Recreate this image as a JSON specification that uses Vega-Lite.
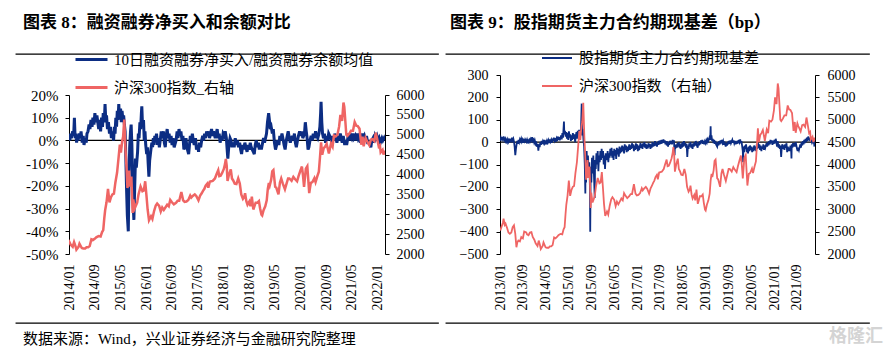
{
"$schema": "https://vega.github.io/schema/vega-lite/v6.json",
"padding": {"left": 15, "top": 13, "right": 5, "bottom": 5},
"background": "white",
"spacing": 6,
"resolve": {"scale": {"color": "independent"}, "legend": {"color": "independent"}},
"datasets": {
"hs300": [
{"d":"2013-01-04","v":2525},{"d":"2013-01-16","v":2600},{"d":"2013-02-01","v":2700},{"d":"2013-02-08","v":2790},{"d":"2013-02-20","v":2650},{"d":"2013-03-01","v":2680},{"d":"2013-03-16","v":2590},{"d":"2013-04-01","v":2480},{"d":"2013-04-16","v":2450},{"d":"2013-05-02","v":2480},{"d":"2013-05-16","v":2600},{"d":"2013-05-30","v":2640},{"d":"2013-06-13","v":2450},{"d":"2013-06-25","v":2150},{"d":"2013-07-05","v":2260},{"d":"2013-07-16","v":2300},{"d":"2013-08-01","v":2280},{"d":"2013-08-16","v":2380},{"d":"2013-09-02","v":2350},{"d":"2013-09-16","v":2500},{"d":"2013-10-08","v":2480},{"d":"2013-10-16","v":2440},{"d":"2013-11-01","v":2420},{"d":"2013-11-16","v":2480},{"d":"2013-12-02","v":2490},{"d":"2013-12-16","v":2380},
{"d":"2014-01-02","v":2320},{"d":"2014-01-16","v":2240},{"d":"2014-02-05","v":2180},{"d":"2014-02-18","v":2300},{"d":"2014-03-03","v":2200},{"d":"2014-03-12","v":2110},{"d":"2014-04-01","v":2180},{"d":"2014-04-10","v":2260},{"d":"2014-05-02","v":2150},{"d":"2014-05-16","v":2140},{"d":"2014-06-03","v":2140},{"d":"2014-06-16","v":2170},{"d":"2014-07-01","v":2170},{"d":"2014-07-16","v":2200},{"d":"2014-08-01","v":2370},{"d":"2014-08-16","v":2350},{"d":"2014-09-01","v":2380},{"d":"2014-09-16","v":2420},{"d":"2014-10-08","v":2450},{"d":"2014-10-27","v":2440},{"d":"2014-11-10","v":2550},{"d":"2014-11-21","v":2600},{"d":"2014-12-01","v":2900},{"d":"2014-12-09","v":3100},{"d":"2014-12-22","v":3300},
{"d":"2015-01-05","v":3640},{"d":"2015-01-19","v":3300},{"d":"2015-02-02","v":3430},{"d":"2015-02-16","v":3500},{"d":"2015-03-02","v":3520},{"d":"2015-03-16","v":3800},{"d":"2015-04-01","v":4050},{"d":"2015-04-16","v":4450},{"d":"2015-04-27","v":4750},{"d":"2015-05-07","v":4550},{"d":"2015-05-20","v":4850},{"d":"2015-05-28","v":4950},{"d":"2015-06-08","v":5380},{"d":"2015-06-19","v":4640},{"d":"2015-06-29","v":4190},{"d":"2015-07-08","v":3660},{"d":"2015-07-16","v":3900},{"d":"2015-07-24","v":4100},{"d":"2015-07-28","v":3700},{"d":"2015-08-14","v":3950},{"d":"2015-08-26","v":3030},{"d":"2015-09-01","v":3370},{"d":"2015-09-15","v":3150},{"d":"2015-10-08","v":3290},{"d":"2015-10-21","v":3500},{"d":"2015-11-09","v":3700},{"d":"2015-11-27","v":3580},{"d":"2015-12-10","v":3600},{"d":"2015-12-23","v":3830},
{"d":"2016-01-04","v":3470},{"d":"2016-01-15","v":3120},{"d":"2016-01-28","v":2850},{"d":"2016-02-16","v":2950},{"d":"2016-02-29","v":2880},{"d":"2016-03-16","v":3080},{"d":"2016-04-01","v":3220},{"d":"2016-04-14","v":3270},{"d":"2016-05-03","v":3210},{"d":"2016-05-18","v":3070},{"d":"2016-06-01","v":3170},{"d":"2016-06-16","v":3110},{"d":"2016-07-01","v":3170},{"d":"2016-07-18","v":3240},{"d":"2016-08-02","v":3200},{"d":"2016-08-16","v":3360},{"d":"2016-09-01","v":3300},{"d":"2016-09-19","v":3250},{"d":"2016-10-10","v":3290},{"d":"2016-10-25","v":3340},{"d":"2016-11-09","v":3340},{"d":"2016-11-29","v":3560},{"d":"2016-12-16","v":3350},{"d":"2016-12-30","v":3310},
{"d":"2017-01-16","v":3320},{"d":"2017-02-03","v":3360},{"d":"2017-02-21","v":3470},{"d":"2017-03-03","v":3420},{"d":"2017-03-17","v":3460},{"d":"2017-04-05","v":3500},{"d":"2017-04-19","v":3460},{"d":"2017-05-10","v":3350},{"d":"2017-05-26","v":3470},{"d":"2017-06-08","v":3520},{"d":"2017-06-22","v":3590},{"d":"2017-07-05","v":3640},{"d":"2017-07-17","v":3720},{"d":"2017-08-01","v":3770},{"d":"2017-08-11","v":3670},{"d":"2017-08-25","v":3820},{"d":"2017-09-08","v":3830},{"d":"2017-09-22","v":3840},{"d":"2017-10-13","v":3900},{"d":"2017-10-27","v":4000},{"d":"2017-11-13","v":4110},{"d":"2017-11-23","v":3960},{"d":"2017-12-06","v":3970},{"d":"2017-12-20","v":4040},
{"d":"2018-01-05","v":4140},{"d":"2018-01-16","v":4260},{"d":"2018-01-24","v":4390},{"d":"2018-02-01","v":4230},{"d":"2018-02-09","v":3840},{"d":"2018-02-23","v":4000},{"d":"2018-03-12","v":4130},{"d":"2018-03-23","v":3900},{"d":"2018-04-04","v":3850},{"d":"2018-04-18","v":3770},{"d":"2018-05-04","v":3760},{"d":"2018-05-21","v":3900},{"d":"2018-06-05","v":3770},{"d":"2018-06-19","v":3500},{"d":"2018-07-05","v":3390},{"d":"2018-07-18","v":3440},{"d":"2018-07-25","v":3530},{"d":"2018-08-06","v":3330},{"d":"2018-08-17","v":3240},{"d":"2018-09-03","v":3320},{"d":"2018-09-14","v":3200},{"d":"2018-09-27","v":3440},{"d":"2018-10-11","v":3120},{"d":"2018-10-19","v":3180},{"d":"2018-11-02","v":3290},{"d":"2018-11-19","v":3290},{"d":"2018-12-03","v":3330},{"d":"2018-12-14","v":3150},{"d":"2018-12-27","v":2990},
{"d":"2019-01-03","v":2970},{"d":"2019-01-16","v":3100},{"d":"2019-02-01","v":3200},{"d":"2019-02-15","v":3350},{"d":"2019-02-25","v":3640},{"d":"2019-03-07","v":3790},{"d":"2019-03-15","v":3720},{"d":"2019-03-29","v":3870},{"d":"2019-04-08","v":4080},{"d":"2019-04-19","v":4110},{"d":"2019-05-06","v":3690},{"d":"2019-05-16","v":3670},{"d":"2019-06-06","v":3500},{"d":"2019-06-20","v":3800},{"d":"2019-07-02","v":3900},{"d":"2019-07-17","v":3770},{"d":"2019-08-06","v":3630},{"d":"2019-08-20","v":3760},{"d":"2019-09-05","v":3900},{"d":"2019-09-17","v":3900},{"d":"2019-10-08","v":3840},{"d":"2019-10-25","v":3940},{"d":"2019-11-11","v":3880},{"d":"2019-11-29","v":3830},{"d":"2019-12-13","v":3960},{"d":"2019-12-31","v":4100},
{"d":"2020-01-14","v":4200},{"d":"2020-01-23","v":4000},{"d":"2020-02-03","v":3690},{"d":"2020-02-20","v":4150},{"d":"2020-03-05","v":4210},{"d":"2020-03-23","v":3530},{"d":"2020-04-07","v":3790},{"d":"2020-04-22","v":3810},{"d":"2020-05-11","v":3910},{"d":"2020-05-22","v":3810},{"d":"2020-06-08","v":3960},{"d":"2020-06-22","v":4070},{"d":"2020-07-03","v":4440},{"d":"2020-07-13","v":4810},{"d":"2020-07-24","v":4500},{"d":"2020-08-07","v":4660},{"d":"2020-08-20","v":4700},{"d":"2020-09-04","v":4770},{"d":"2020-09-25","v":4530},{"d":"2020-10-15","v":4780},{"d":"2020-10-30","v":4700},{"d":"2020-11-12","v":4980},{"d":"2020-11-30","v":4960},{"d":"2020-12-15","v":5000},{"d":"2020-12-31","v":5210},
{"d":"2021-01-12","v":5500},{"d":"2021-01-28","v":5350},{"d":"2021-02-10","v":5810},{"d":"2021-02-18","v":5700},{"d":"2021-03-09","v":5000},{"d":"2021-03-19","v":4970},{"d":"2021-04-07","v":5030},{"d":"2021-04-22","v":5100},{"d":"2021-05-11","v":5100},{"d":"2021-05-27","v":5320},{"d":"2021-06-11","v":5230},{"d":"2021-06-25","v":5220},{"d":"2021-07-12","v":5150},{"d":"2021-07-28","v":4750},{"d":"2021-08-10","v":4950},{"d":"2021-08-20","v":4710},{"d":"2021-09-07","v":4920},{"d":"2021-09-17","v":4860},{"d":"2021-10-12","v":4740},{"d":"2021-10-28","v":4880},{"d":"2021-11-12","v":4890},{"d":"2021-11-29","v":4840},{"d":"2021-12-13","v":5050},{"d":"2021-12-24","v":4920},
{"d":"2022-01-10","v":4700},{"d":"2022-01-21","v":4730},{"d":"2022-01-28","v":4560},{"d":"2022-02-15","v":4620},{"d":"2022-02-24","v":4500},{"d":"2022-03-04","v":4600},{"d":"2022-03-08","v":4520}
],
"margin": [
{"d":"2014-01-02","v":2},{"d":"2014-01-09","v":0},{"d":"2014-01-16","v":3},{"d":"2014-01-23","v":1},{"d":"2014-02-05","v":4},{"d":"2014-02-14","v":2},{"d":"2014-02-21","v":10},{"d":"2014-02-28","v":1},{"d":"2014-03-07","v":3},{"d":"2014-03-14","v":-1},{"d":"2014-03-21","v":2},{"d":"2014-03-28","v":0},{"d":"2014-04-08","v":3},{"d":"2014-04-18","v":1},{"d":"2014-04-25","v":4},{"d":"2014-05-06","v":-1},{"d":"2014-05-16","v":2},{"d":"2014-05-23","v":-2},{"d":"2014-06-03","v":1},{"d":"2014-06-13","v":-1},{"d":"2014-06-20","v":3},{"d":"2014-06-30","v":4},{"d":"2014-07-10","v":7},{"d":"2014-07-18","v":5},{"d":"2014-07-28","v":9},{"d":"2014-08-07","v":6},{"d":"2014-08-15","v":10},{"d":"2014-08-25","v":7},{"d":"2014-09-03","v":12},{"d":"2014-09-12","v":8},{"d":"2014-09-22","v":11},{"d":"2014-10-09","v":5},{"d":"2014-10-17","v":9},{"d":"2014-10-27","v":4},{"d":"2014-11-05","v":10},{"d":"2014-11-14","v":6},{"d":"2014-11-21","v":12},{"d":"2014-12-01","v":8},{"d":"2014-12-08","v":16},{"d":"2014-12-15","v":9},{"d":"2014-12-22","v":11},{"d":"2014-12-31","v":5},
{"d":"2015-01-09","v":8},{"d":"2015-01-19","v":3},{"d":"2015-01-28","v":6},{"d":"2015-02-06","v":1},{"d":"2015-02-13","v":4},{"d":"2015-02-27","v":0},{"d":"2015-03-06","v":6},{"d":"2015-03-13","v":3},{"d":"2015-03-20","v":10},{"d":"2015-03-27","v":6},{"d":"2015-04-03","v":13},{"d":"2015-04-10","v":9},{"d":"2015-04-17","v":16},{"d":"2015-04-24","v":10},{"d":"2015-05-04","v":14},{"d":"2015-05-11","v":8},{"d":"2015-05-18","v":13},{"d":"2015-05-26","v":9},{"d":"2015-06-02","v":11},{"d":"2015-06-09","v":7},{"d":"2015-06-16","v":4},{"d":"2015-06-23","v":-8},{"d":"2015-06-30","v":-22},{"d":"2015-07-07","v":-33},{"d":"2015-07-16","v":-40},{"d":"2015-07-22","v":-20},{"d":"2015-07-29","v":-3},{"d":"2015-08-06","v":4},{"d":"2015-08-12","v":7},{"d":"2015-08-19","v":-2},{"d":"2015-08-26","v":-18},{"d":"2015-09-02","v":-30},{"d":"2015-09-07","v":-35},{"d":"2015-09-15","v":-20},{"d":"2015-09-22","v":-8},{"d":"2015-09-30","v":-12},{"d":"2015-10-12","v":-5},{"d":"2015-10-19","v":3},{"d":"2015-10-26","v":1},{"d":"2015-11-03","v":8},{"d":"2015-11-10","v":5},{"d":"2015-11-17","v":12},{"d":"2015-11-21","v":15},{"d":"2015-11-28","v":6},{"d":"2015-12-07","v":9},{"d":"2015-12-14","v":0},{"d":"2015-12-21","v":4},{"d":"2015-12-28","v":-2},
{"d":"2016-01-06","v":-6},{"d":"2016-01-13","v":-3},{"d":"2016-01-20","v":-10},{"d":"2016-01-27","v":-16},{"d":"2016-02-03","v":-9},{"d":"2016-02-15","v":-4},{"d":"2016-02-24","v":-1},{"d":"2016-03-02","v":-3},{"d":"2016-03-09","v":1},{"d":"2016-03-16","v":-2},{"d":"2016-03-23","v":2},{"d":"2016-03-30","v":0},{"d":"2016-04-08","v":3},{"d":"2016-04-18","v":-2},{"d":"2016-04-26","v":1},{"d":"2016-05-05","v":-3},{"d":"2016-05-13","v":0},{"d":"2016-05-23","v":4},{"d":"2016-06-01","v":1},{"d":"2016-06-12","v":4},{"d":"2016-06-21","v":-1},{"d":"2016-06-30","v":-3},{"d":"2016-07-08","v":2},{"d":"2016-07-18","v":5},{"d":"2016-07-27","v":1},{"d":"2016-08-05","v":3},{"d":"2016-08-15","v":-1},{"d":"2016-08-24","v":2},{"d":"2016-09-02","v":-2},{"d":"2016-09-12","v":1},{"d":"2016-09-22","v":-3},{"d":"2016-10-10","v":0},{"d":"2016-10-20","v":4},{"d":"2016-10-28","v":1},{"d":"2016-11-07","v":5},{"d":"2016-11-17","v":2},{"d":"2016-11-25","v":4},{"d":"2016-12-05","v":0},{"d":"2016-12-14","v":2},{"d":"2016-12-23","v":-4},
{"d":"2017-01-03","v":-2},{"d":"2017-01-12","v":1},{"d":"2017-01-20","v":-3},{"d":"2017-02-06","v":-6},{"d":"2017-02-14","v":-2},{"d":"2017-02-22","v":2},{"d":"2017-03-03","v":-1},{"d":"2017-03-13","v":3},{"d":"2017-03-22","v":0},{"d":"2017-03-31","v":-2},{"d":"2017-04-12","v":1},{"d":"2017-04-21","v":-4},{"d":"2017-05-02","v":-2},{"d":"2017-05-11","v":-5},{"d":"2017-05-19","v":-1},{"d":"2017-05-31","v":-3},{"d":"2017-06-09","v":0},{"d":"2017-06-19","v":2},{"d":"2017-06-28","v":0},{"d":"2017-07-07","v":3},{"d":"2017-07-17","v":1},{"d":"2017-07-26","v":4},{"d":"2017-08-04","v":2},{"d":"2017-08-14","v":4},{"d":"2017-08-23","v":1},{"d":"2017-09-01","v":3},{"d":"2017-09-11","v":5},{"d":"2017-09-20","v":2},{"d":"2017-09-29","v":4},{"d":"2017-10-16","v":1},{"d":"2017-10-25","v":3},{"d":"2017-11-03","v":5},{"d":"2017-11-13","v":1},{"d":"2017-11-22","v":3},{"d":"2017-12-01","v":-1},{"d":"2017-12-11","v":2},{"d":"2017-12-20","v":0},{"d":"2017-12-29","v":3},
{"d":"2018-01-09","v":2},{"d":"2018-01-18","v":4},{"d":"2018-01-29","v":1},{"d":"2018-02-07","v":-5},{"d":"2018-02-12","v":-8},{"d":"2018-02-22","v":-2},{"d":"2018-03-05","v":1},{"d":"2018-03-14","v":0},{"d":"2018-03-23","v":-3},{"d":"2018-04-03","v":-1},{"d":"2018-04-13","v":-3},{"d":"2018-04-23","v":1},{"d":"2018-05-04","v":-2},{"d":"2018-05-14","v":0},{"d":"2018-05-24","v":-3},{"d":"2018-06-04","v":-1},{"d":"2018-06-13","v":-4},{"d":"2018-06-22","v":-6},{"d":"2018-07-03","v":-2},{"d":"2018-07-12","v":-4},{"d":"2018-07-23","v":-1},{"d":"2018-08-02","v":-3},{"d":"2018-08-13","v":-5},{"d":"2018-08-22","v":-2},{"d":"2018-09-03","v":-4},{"d":"2018-09-12","v":-1},{"d":"2018-09-21","v":-3},{"d":"2018-10-11","v":-5},{"d":"2018-10-20","v":-6},{"d":"2018-10-29","v":-2},{"d":"2018-11-08","v":0},{"d":"2018-11-19","v":-3},{"d":"2018-11-28","v":-1},{"d":"2018-12-07","v":-4},{"d":"2018-12-17","v":-2},{"d":"2018-12-26","v":-4},
{"d":"2019-01-07","v":-1},{"d":"2019-01-16","v":1},{"d":"2019-01-25","v":-1},{"d":"2019-02-13","v":3},{"d":"2019-02-22","v":8},{"d":"2019-03-05","v":12},{"d":"2019-03-12","v":9},{"d":"2019-03-20","v":5},{"d":"2019-03-29","v":6},{"d":"2019-04-09","v":3},{"d":"2019-04-18","v":5},{"d":"2019-04-29","v":-1},{"d":"2019-05-09","v":-4},{"d":"2019-05-20","v":-2},{"d":"2019-05-29","v":0},{"d":"2019-06-10","v":-2},{"d":"2019-06-19","v":2},{"d":"2019-06-28","v":0},{"d":"2019-07-09","v":3},{"d":"2019-07-18","v":1},{"d":"2019-07-29","v":-2},{"d":"2019-08-08","v":-4},{"d":"2019-08-19","v":0},{"d":"2019-08-28","v":2},{"d":"2019-09-06","v":4},{"d":"2019-09-17","v":1},{"d":"2019-09-26","v":-1},{"d":"2019-10-15","v":2},{"d":"2019-10-24","v":0},{"d":"2019-11-04","v":3},{"d":"2019-11-13","v":-1},{"d":"2019-11-22","v":-3},{"d":"2019-12-03","v":0},{"d":"2019-12-12","v":2},{"d":"2019-12-23","v":4},
{"d":"2020-01-03","v":2},{"d":"2020-01-14","v":4},{"d":"2020-01-22","v":1},{"d":"2020-02-07","v":3},{"d":"2020-02-15","v":8},{"d":"2020-02-24","v":4},{"d":"2020-03-03","v":1},{"d":"2020-03-12","v":-4},{"d":"2020-03-20","v":-3},{"d":"2020-03-30","v":0},{"d":"2020-04-10","v":2},{"d":"2020-04-21","v":0},{"d":"2020-04-30","v":3},{"d":"2020-05-12","v":1},{"d":"2020-05-22","v":4},{"d":"2020-06-02","v":2},{"d":"2020-06-12","v":1},{"d":"2020-06-23","v":3},{"d":"2020-07-02","v":6},{"d":"2020-07-09","v":12},{"d":"2020-07-13","v":17},{"d":"2020-07-20","v":8},{"d":"2020-07-27","v":3},{"d":"2020-08-05","v":1},{"d":"2020-08-14","v":3},{"d":"2020-08-25","v":-1},{"d":"2020-09-03","v":2},{"d":"2020-09-14","v":0},{"d":"2020-09-23","v":3},{"d":"2020-10-13","v":1},{"d":"2020-10-22","v":-1},{"d":"2020-11-02","v":2},{"d":"2020-11-11","v":0},{"d":"2020-11-20","v":3},{"d":"2020-12-01","v":1},{"d":"2020-12-10","v":-1},{"d":"2020-12-21","v":2},{"d":"2020-12-30","v":0},
{"d":"2021-01-11","v":3},{"d":"2021-01-20","v":1},{"d":"2021-01-29","v":-1},{"d":"2021-02-08","v":2},{"d":"2021-02-22","v":-2},{"d":"2021-03-03","v":0},{"d":"2021-03-12","v":-2},{"d":"2021-03-23","v":1},{"d":"2021-04-01","v":3},{"d":"2021-04-12","v":0},{"d":"2021-04-21","v":2},{"d":"2021-04-30","v":1},{"d":"2021-05-12","v":3},{"d":"2021-05-21","v":1},{"d":"2021-06-01","v":2},{"d":"2021-06-10","v":0},{"d":"2021-06-21","v":3},{"d":"2021-06-30","v":1},{"d":"2021-07-09","v":2},{"d":"2021-07-20","v":-1},{"d":"2021-07-29","v":1},{"d":"2021-08-09","v":3},{"d":"2021-08-18","v":1},{"d":"2021-08-27","v":2},{"d":"2021-09-07","v":0},{"d":"2021-09-16","v":2},{"d":"2021-09-27","v":-1},{"d":"2021-10-15","v":-1},{"d":"2021-10-27","v":-3},{"d":"2021-11-05","v":0},{"d":"2021-11-16","v":1},{"d":"2021-11-25","v":-1},{"d":"2021-12-06","v":2},{"d":"2021-12-15","v":1},{"d":"2021-12-24","v":2},
{"d":"2022-01-05","v":0},{"d":"2022-01-14","v":1},{"d":"2022-01-25","v":-1},{"d":"2022-02-09","v":1},{"d":"2022-02-18","v":0},{"d":"2022-03-01","v":1},{"d":"2022-03-08","v":0}
],
"basis": [
{"d":"2013-01-04","v":5},{"d":"2013-01-11","v":18},{"d":"2013-01-18","v":8},{"d":"2013-01-25","v":22},{"d":"2013-02-01","v":12},{"d":"2013-02-08","v":25},{"d":"2013-02-18","v":10},{"d":"2013-02-25","v":15},{"d":"2013-03-04","v":-5},{"d":"2013-03-11","v":8},{"d":"2013-03-18","v":0},{"d":"2013-03-25","v":12},{"d":"2013-04-01","v":3},{"d":"2013-04-08","v":15},{"d":"2013-04-15","v":-2},{"d":"2013-04-22","v":10},{"d":"2013-05-02","v":5},{"d":"2013-05-09","v":20},{"d":"2013-05-16","v":8},{"d":"2013-05-23","v":15},{"d":"2013-05-30","v":2},{"d":"2013-06-06","v":-20},{"d":"2013-06-13","v":-58},{"d":"2013-06-20","v":-30},{"d":"2013-06-27","v":-10},{"d":"2013-07-04","v":5},{"d":"2013-07-11","v":-8},{"d":"2013-07-18","v":10},{"d":"2013-07-25","v":0},{"d":"2013-08-01","v":12},{"d":"2013-08-08","v":5},{"d":"2013-08-15","v":15},{"d":"2013-08-22","v":2},{"d":"2013-08-29","v":10},{"d":"2013-09-05","v":-3},{"d":"2013-09-12","v":8},{"d":"2013-09-19","v":3},{"d":"2013-09-26","v":12},{"d":"2013-10-08","v":2},{"d":"2013-10-15","v":10},{"d":"2013-10-22","v":-5},{"d":"2013-10-29","v":6},{"d":"2013-11-05","v":0},{"d":"2013-11-12","v":10},{"d":"2013-11-19","v":4},{"d":"2013-11-26","v":14},{"d":"2013-12-03","v":8},{"d":"2013-12-10","v":22},{"d":"2013-12-17","v":5},{"d":"2013-12-24","v":10},{"d":"2013-12-31","v":-2},
{"d":"2014-01-07","v":8},{"d":"2014-01-14","v":-5},{"d":"2014-01-21","v":3},{"d":"2014-01-28","v":-20},{"d":"2014-02-07","v":-8},{"d":"2014-02-14","v":-38},{"d":"2014-02-21","v":-10},{"d":"2014-02-28","v":-22},{"d":"2014-03-07","v":0},{"d":"2014-03-14","v":-12},{"d":"2014-03-21","v":5},{"d":"2014-03-28","v":-8},{"d":"2014-04-04","v":4},{"d":"2014-04-11","v":-3},{"d":"2014-04-18","v":10},{"d":"2014-04-25","v":-6},{"d":"2014-05-05","v":2},{"d":"2014-05-12","v":-10},{"d":"2014-05-19","v":6},{"d":"2014-05-26","v":-2},{"d":"2014-06-03","v":8},{"d":"2014-06-10","v":-4},{"d":"2014-06-17","v":12},{"d":"2014-06-24","v":2},{"d":"2014-07-01","v":10},{"d":"2014-07-08","v":-3},{"d":"2014-07-15","v":15},{"d":"2014-07-22","v":5},{"d":"2014-07-29","v":20},{"d":"2014-08-05","v":8},{"d":"2014-08-12","v":18},{"d":"2014-08-19","v":2},{"d":"2014-08-26","v":15},{"d":"2014-09-02","v":5},{"d":"2014-09-09","v":25},{"d":"2014-09-16","v":10},{"d":"2014-09-23","v":22},{"d":"2014-09-30","v":8},{"d":"2014-10-14","v":30},{"d":"2014-10-21","v":12},{"d":"2014-10-28","v":40},{"d":"2014-11-04","v":20},{"d":"2014-11-14","v":92},{"d":"2014-11-18","v":35},{"d":"2014-11-25","v":50},{"d":"2014-12-02","v":25},{"d":"2014-12-09","v":45},{"d":"2014-12-16","v":15},{"d":"2014-12-23","v":40},{"d":"2014-12-30","v":10},
{"d":"2015-01-06","v":48},{"d":"2015-01-13","v":20},{"d":"2015-01-20","v":35},{"d":"2015-01-27","v":5},{"d":"2015-02-03","v":30},{"d":"2015-02-10","v":10},{"d":"2015-02-17","v":40},{"d":"2015-02-27","v":15},{"d":"2015-03-06","v":35},{"d":"2015-03-13","v":0},{"d":"2015-03-20","v":25},{"d":"2015-03-27","v":45},{"d":"2015-04-03","v":15},{"d":"2015-04-10","v":50},{"d":"2015-04-17","v":20},{"d":"2015-04-24","v":55},{"d":"2015-05-01","v":10},{"d":"2015-05-08","v":40},{"d":"2015-05-15","v":60},{"d":"2015-05-22","v":172},{"d":"2015-05-27","v":30},{"d":"2015-06-03","v":60},{"d":"2015-06-10","v":10},{"d":"2015-06-17","v":-20},{"d":"2015-06-24","v":-100},{"d":"2015-06-30","v":-230},{"d":"2015-07-03","v":-60},{"d":"2015-07-08","v":-180},{"d":"2015-07-14","v":-40},{"d":"2015-07-21","v":-120},{"d":"2015-07-28","v":-60},{"d":"2015-08-04","v":-150},{"d":"2015-08-11","v":-90},{"d":"2015-08-18","v":-200},{"d":"2015-08-21","v":-400},{"d":"2015-08-26","v":-110},{"d":"2015-09-02","v":-180},{"d":"2015-09-09","v":-70},{"d":"2015-09-16","v":-140},{"d":"2015-09-23","v":-60},{"d":"2015-10-08","v":-250},{"d":"2015-10-12","v":-80},{"d":"2015-10-19","v":-120},{"d":"2015-10-26","v":-50},{"d":"2015-11-02","v":-100},{"d":"2015-11-09","v":-40},{"d":"2015-11-16","v":-130},{"d":"2015-11-23","v":-60},{"d":"2015-11-30","v":-90},{"d":"2015-12-07","v":-40},{"d":"2015-12-14","v":-80},{"d":"2015-12-21","v":-30},{"d":"2015-12-28","v":-70},
{"d":"2016-01-05","v":-40},{"d":"2016-01-12","v":-100},{"d":"2016-01-19","v":-60},{"d":"2016-01-26","v":-120},{"d":"2016-02-02","v":-50},{"d":"2016-02-16","v":-80},{"d":"2016-02-23","v":-40},{"d":"2016-03-01","v":-90},{"d":"2016-03-08","v":-50},{"d":"2016-03-15","v":-70},{"d":"2016-03-22","v":-30},{"d":"2016-03-29","v":-60},{"d":"2016-04-05","v":-25},{"d":"2016-04-12","v":-70},{"d":"2016-04-19","v":-40},{"d":"2016-04-26","v":-80},{"d":"2016-05-03","v":-30},{"d":"2016-05-10","v":-60},{"d":"2016-05-17","v":-35},{"d":"2016-05-24","v":-75},{"d":"2016-05-31","v":-25},{"d":"2016-06-07","v":-55},{"d":"2016-06-14","v":-30},{"d":"2016-06-21","v":-65},{"d":"2016-06-28","v":-20},{"d":"2016-07-05","v":-50},{"d":"2016-07-12","v":-25},{"d":"2016-07-19","v":-45},{"d":"2016-07-26","v":-15},{"d":"2016-08-02","v":-40},{"d":"2016-08-09","v":-20},{"d":"2016-08-16","v":-50},{"d":"2016-08-23","v":-10},{"d":"2016-08-30","v":-35},{"d":"2016-09-06","v":-15},{"d":"2016-09-13","v":-45},{"d":"2016-09-20","v":-20},{"d":"2016-09-27","v":-40},{"d":"2016-10-11","v":-10},{"d":"2016-10-18","v":-35},{"d":"2016-10-25","v":-15},{"d":"2016-11-01","v":-30},{"d":"2016-11-08","v":-5},{"d":"2016-11-15","v":-25},{"d":"2016-11-22","v":-10},{"d":"2016-11-29","v":-40},{"d":"2016-12-06","v":-15},{"d":"2016-12-13","v":-35},{"d":"2016-12-20","v":-5},{"d":"2016-12-27","v":-30},
{"d":"2017-01-03","v":-10},{"d":"2017-01-10","v":-40},{"d":"2017-01-17","v":-15},{"d":"2017-01-24","v":-35},{"d":"2017-02-07","v":-5},{"d":"2017-02-14","v":-25},{"d":"2017-02-21","v":-10},{"d":"2017-02-28","v":-30},{"d":"2017-03-07","v":-5},{"d":"2017-03-14","v":-20},{"d":"2017-03-21","v":0},{"d":"2017-03-28","v":-25},{"d":"2017-04-05","v":-8},{"d":"2017-04-12","v":-30},{"d":"2017-04-19","v":-12},{"d":"2017-04-26","v":-28},{"d":"2017-05-03","v":-5},{"d":"2017-05-10","v":-22},{"d":"2017-05-17","v":-8},{"d":"2017-05-24","v":-30},{"d":"2017-05-31","v":-10},{"d":"2017-06-07","v":-25},{"d":"2017-06-14","v":0},{"d":"2017-06-21","v":-20},{"d":"2017-06-28","v":-5},{"d":"2017-07-05","v":-18},{"d":"2017-07-12","v":5},{"d":"2017-07-19","v":-15},{"d":"2017-07-26","v":-3},{"d":"2017-08-02","v":-20},{"d":"2017-08-09","v":2},{"d":"2017-08-16","v":-12},{"d":"2017-08-23","v":5},{"d":"2017-08-30","v":-10},{"d":"2017-09-06","v":8},{"d":"2017-09-13","v":-8},{"d":"2017-09-20","v":10},{"d":"2017-09-27","v":-5},{"d":"2017-10-10","v":12},{"d":"2017-10-17","v":-3},{"d":"2017-10-24","v":8},{"d":"2017-10-31","v":-10},{"d":"2017-11-07","v":5},{"d":"2017-11-14","v":-15},{"d":"2017-11-21","v":3},{"d":"2017-11-28","v":-20},{"d":"2017-12-05","v":0},{"d":"2017-12-12","v":-12},{"d":"2017-12-19","v":6},{"d":"2017-12-26","v":-8},
{"d":"2018-01-02","v":5},{"d":"2018-01-09","v":-10},{"d":"2018-01-16","v":10},{"d":"2018-01-23","v":-5},{"d":"2018-01-30","v":8},{"d":"2018-02-06","v":-58},{"d":"2018-02-09","v":-15},{"d":"2018-02-13","v":-30},{"d":"2018-02-23","v":-10},{"d":"2018-03-02","v":-25},{"d":"2018-03-09","v":-5},{"d":"2018-03-16","v":-20},{"d":"2018-03-23","v":0},{"d":"2018-03-30","v":-25},{"d":"2018-04-04","v":-10},{"d":"2018-04-11","v":-30},{"d":"2018-04-18","v":-5},{"d":"2018-04-25","v":-25},{"d":"2018-05-03","v":0},{"d":"2018-05-10","v":-20},{"d":"2018-05-17","v":5},{"d":"2018-05-24","v":-15},{"d":"2018-05-31","v":-5},{"d":"2018-06-07","v":-25},{"d":"2018-06-14","v":-8},{"d":"2018-06-21","v":-66},{"d":"2018-06-28","v":-15},{"d":"2018-07-05","v":-30},{"d":"2018-07-12","v":-5},{"d":"2018-07-19","v":-20},{"d":"2018-07-26","v":0},{"d":"2018-08-02","v":-25},{"d":"2018-08-09","v":-10},{"d":"2018-08-16","v":-30},{"d":"2018-08-23","v":-5},{"d":"2018-08-30","v":-20},{"d":"2018-09-06","v":0},{"d":"2018-09-13","v":-15},{"d":"2018-09-20","v":5},{"d":"2018-09-27","v":-10},{"d":"2018-10-10","v":-25},{"d":"2018-10-17","v":0},{"d":"2018-10-24","v":-15},{"d":"2018-10-31","v":5},{"d":"2018-11-07","v":-10},{"d":"2018-11-14","v":8},{"d":"2018-11-21","v":-5},{"d":"2018-11-28","v":10},{"d":"2018-12-05","v":-8},{"d":"2018-12-12","v":5},{"d":"2018-12-19","v":-10},{"d":"2018-12-26","v":3},
{"d":"2019-01-03","v":-5},{"d":"2019-01-10","v":8},{"d":"2019-01-17","v":0},{"d":"2019-01-24","v":12},{"d":"2019-01-31","v":5},{"d":"2019-02-12","v":20},{"d":"2019-02-20","v":10},{"d":"2019-02-25","v":71},{"d":"2019-02-28","v":15},{"d":"2019-03-06","v":30},{"d":"2019-03-13","v":5},{"d":"2019-03-20","v":15},{"d":"2019-03-27","v":-5},{"d":"2019-04-03","v":10},{"d":"2019-04-10","v":-8},{"d":"2019-04-17","v":5},{"d":"2019-04-24","v":-10},{"d":"2019-05-06","v":-20},{"d":"2019-05-13","v":0},{"d":"2019-05-20","v":-15},{"d":"2019-05-27","v":5},{"d":"2019-06-03","v":-10},{"d":"2019-06-10","v":8},{"d":"2019-06-17","v":-5},{"d":"2019-06-24","v":10},{"d":"2019-07-01","v":-3},{"d":"2019-07-08","v":5},{"d":"2019-07-15","v":-12},{"d":"2019-07-22","v":3},{"d":"2019-07-29","v":-8},{"d":"2019-08-05","v":-20},{"d":"2019-08-12","v":-5},{"d":"2019-08-19","v":-15},{"d":"2019-08-26","v":2},{"d":"2019-09-02","v":-10},{"d":"2019-09-09","v":5},{"d":"2019-09-16","v":-8},{"d":"2019-09-23","v":8},{"d":"2019-09-30","v":-5},{"d":"2019-10-14","v":10},{"d":"2019-10-21","v":-3},{"d":"2019-10-28","v":8},{"d":"2019-11-04","v":-5},{"d":"2019-11-11","v":5},{"d":"2019-11-18","v":-10},{"d":"2019-11-25","v":3},{"d":"2019-12-02","v":-8},{"d":"2019-12-09","v":6},{"d":"2019-12-16","v":-5},{"d":"2019-12-23","v":10},{"d":"2019-12-30","v":0},
{"d":"2020-01-06","v":12},{"d":"2020-01-13","v":-5},{"d":"2020-01-20","v":5},{"d":"2020-02-03","v":-40},{"d":"2020-02-06","v":-90},{"d":"2020-02-10","v":-20},{"d":"2020-02-17","v":-45},{"d":"2020-02-24","v":-15},{"d":"2020-03-02","v":-30},{"d":"2020-03-09","v":-10},{"d":"2020-03-16","v":-45},{"d":"2020-03-23","v":-25},{"d":"2020-03-30","v":-50},{"d":"2020-04-06","v":-20},{"d":"2020-04-13","v":-40},{"d":"2020-04-20","v":-15},{"d":"2020-04-27","v":-35},{"d":"2020-05-06","v":-20},{"d":"2020-05-13","v":-45},{"d":"2020-05-20","v":-25},{"d":"2020-05-27","v":-40},{"d":"2020-06-03","v":-15},{"d":"2020-06-10","v":-35},{"d":"2020-06-17","v":-20},{"d":"2020-06-24","v":-40},{"d":"2020-07-01","v":-10},{"d":"2020-07-08","v":-30},{"d":"2020-07-15","v":-5},{"d":"2020-07-22","v":-25},{"d":"2020-07-29","v":-10},{"d":"2020-08-05","v":-35},{"d":"2020-08-12","v":-15},{"d":"2020-08-19","v":-40},{"d":"2020-08-26","v":-20},{"d":"2020-09-02","v":-30},{"d":"2020-09-09","v":-10},{"d":"2020-09-16","v":-35},{"d":"2020-09-23","v":-15},{"d":"2020-09-30","v":-25},{"d":"2020-10-13","v":-5},{"d":"2020-10-20","v":-20},{"d":"2020-10-27","v":0},{"d":"2020-11-03","v":-15},{"d":"2020-11-10","v":5},{"d":"2020-11-17","v":-10},{"d":"2020-11-24","v":10},{"d":"2020-12-01","v":-5},{"d":"2020-12-08","v":8},{"d":"2020-12-15","v":-12},{"d":"2020-12-22","v":5},{"d":"2020-12-29","v":-8},
{"d":"2021-01-05","v":10},{"d":"2021-01-12","v":-5},{"d":"2021-01-19","v":15},{"d":"2021-01-26","v":0},{"d":"2021-02-02","v":-20},{"d":"2021-02-09","v":5},{"d":"2021-02-18","v":-25},{"d":"2021-02-25","v":-10},{"d":"2021-03-04","v":-30},{"d":"2021-03-11","v":-15},{"d":"2021-03-18","v":-66},{"d":"2021-03-25","v":-20},{"d":"2021-04-01","v":-10},{"d":"2021-04-08","v":-30},{"d":"2021-04-15","v":-15},{"d":"2021-04-22","v":-35},{"d":"2021-04-29","v":-10},{"d":"2021-05-07","v":-25},{"d":"2021-05-14","v":-5},{"d":"2021-05-21","v":-45},{"d":"2021-05-28","v":-20},{"d":"2021-06-04","v":-40},{"d":"2021-06-11","v":-25},{"d":"2021-06-18","v":-40},{"d":"2021-06-25","v":-15},{"d":"2021-07-02","v":-30},{"d":"2021-07-06","v":-73},{"d":"2021-07-09","v":-10},{"d":"2021-07-16","v":-25},{"d":"2021-07-23","v":-5},{"d":"2021-07-30","v":-20},{"d":"2021-08-06","v":-5},{"d":"2021-08-13","v":-20},{"d":"2021-08-20","v":0},{"d":"2021-08-27","v":-15},{"d":"2021-09-03","v":-30},{"d":"2021-09-10","v":-40},{"d":"2021-09-17","v":-25},{"d":"2021-09-24","v":-35},{"d":"2021-10-08","v":-10},{"d":"2021-10-15","v":-25},{"d":"2021-10-22","v":0},{"d":"2021-10-29","v":-15},{"d":"2021-11-05","v":5},{"d":"2021-11-12","v":-10},{"d":"2021-11-19","v":10},{"d":"2021-11-26","v":-5},{"d":"2021-12-03","v":15},{"d":"2021-12-10","v":0},{"d":"2021-12-17","v":20},{"d":"2021-12-24","v":5},{"d":"2021-12-31","v":25},
{"d":"2022-01-07","v":10},{"d":"2022-01-14","v":20},{"d":"2022-01-21","v":5},{"d":"2022-01-28","v":15},{"d":"2022-02-08","v":0},{"d":"2022-02-15","v":12},{"d":"2022-02-22","v":-5},{"d":"2022-03-01","v":5},{"d":"2022-03-08","v":-20}
]
},
"hconcat": [
{
"resolve": {"scale": {"color": "independent"}, "legend": {"color": "independent"}},
"vconcat": [
{
"width": 422, "height": 0.01,
"view": {"stroke": "black", "strokeWidth": 1.3},
"data": {"values": []},
"title": {"text": "图表 8：融资融券净买入和余额对比", "orient": "top", "anchor": "start", "frame": "group", "offset": 5, "dx": 7, "baseline": "bottom", "fontSize": 17, "fontWeight": "bold", "font": "Liberation Serif, Noto Sans CJK SC", "color": "black"},
"mark": {"type": "point", "opacity": 0, "size": 0},
"encoding": {}
},
{
"width": 422, "height": 40,
"data": {"values": [{"a": 0}]},
"mark": {"type": "point", "opacity": 0, "size": 0},
"encoding": {
"color": {"datum": "10日融资融券净买入/融资融券余额均值", "type": "nominal",
"scale": {"domain": ["10日融资融券净买入/融资融券余额均值", "沪深300指数_右轴"], "range": ["#0C2D83", "#EF6564"]},
"legend": {"orient": "none", "legendX": 58, "legendY": -13, "direction": "vertical", "title": null, "symbolType": "stroke", "symbolSize": 1024, "symbolStrokeWidth": 3, "symbolOpacity": 1, "labelFontSize": 15, "labelColor": "black", "labelOffset": 5, "rowPadding": 2, "padding": 0, "labelLimit": 400}}
}
},
{
"width": 316, "height": 159,
"layer": [
{"data": {"values": [{"a": 0}]}, "mark": {"type": "rule", "color": "black", "strokeWidth": 1.2}, "encoding": {"y": {"datum": 0, "type": "quantitative", "scale": {"domain": [-50, 20], "nice": false, "zero": false}, "axis": null}}},
{
"data": {"name": "margin"},
"mark": {"type": "line", "strokeWidth": 3, "clip": true, "color": "#0C2D83"},
"encoding": {
"x": {"field": "d", "type": "temporal", "scale": {"type": "utc", "domain": [{"year": 2014, "month": 1, "date": 1, "utc": true}, {"year": 2022, "month": 3, "date": 10, "utc": true}]},
"axis": {"orient": "bottom", "domain": false, "ticks": false, "grid": false, "title": null, "labelAngle": -90, "labelPadding": 10, "labelFontSize": 14, "labelOverlap": false, "labelFlush": false, "labelExpr": "utcFormat(datum.value, '%Y/%m')",
"values": [{"year":2014,"month":1,"date":1,"utc":true},{"year":2014,"month":9,"date":1,"utc":true},{"year":2015,"month":5,"date":1,"utc":true},{"year":2016,"month":1,"date":1,"utc":true},{"year":2016,"month":9,"date":1,"utc":true},{"year":2017,"month":5,"date":1,"utc":true},{"year":2018,"month":1,"date":1,"utc":true},{"year":2018,"month":9,"date":1,"utc":true},{"year":2019,"month":5,"date":1,"utc":true},{"year":2020,"month":1,"date":1,"utc":true},{"year":2020,"month":9,"date":1,"utc":true},{"year":2021,"month":5,"date":1,"utc":true},{"year":2022,"month":1,"date":1,"utc":true}]}},
"y": {"field": "v", "type": "quantitative", "scale": {"domain": [-50, 20], "nice": false, "zero": false},
"axis": {"orient": "left", "values": [-50, -40, -30, -20, -10, 0, 10, 20], "labelExpr": "datum.value + '%'", "labelOverlap": false, "labelFontSize": 15, "tickSize": 4, "labelPadding": 7, "domainColor": "black", "tickColor": "black", "grid": false, "title": null}}
}
},
{
"data": {"name": "hs300"},
"mark": {"type": "line", "strokeWidth": 2.5, "clip": true, "color": "#EF6564"},
"encoding": {
"x": {"field": "d", "type": "temporal", "scale": {"type": "utc", "domain": [{"year": 2014, "month": 1, "date": 1, "utc": true}, {"year": 2022, "month": 3, "date": 10, "utc": true}]},
"axis": {"orient": "bottom", "domain": false, "ticks": false, "grid": false, "title": null, "labelAngle": -90, "labelPadding": 10, "labelFontSize": 14, "labelOverlap": false, "labelFlush": false, "labelExpr": "utcFormat(datum.value, '%Y/%m')",
"values": [{"year":2014,"month":1,"date":1,"utc":true},{"year":2014,"month":9,"date":1,"utc":true},{"year":2015,"month":5,"date":1,"utc":true},{"year":2016,"month":1,"date":1,"utc":true},{"year":2016,"month":9,"date":1,"utc":true},{"year":2017,"month":5,"date":1,"utc":true},{"year":2018,"month":1,"date":1,"utc":true},{"year":2018,"month":9,"date":1,"utc":true},{"year":2019,"month":5,"date":1,"utc":true},{"year":2020,"month":1,"date":1,"utc":true},{"year":2020,"month":9,"date":1,"utc":true},{"year":2021,"month":5,"date":1,"utc":true},{"year":2022,"month":1,"date":1,"utc":true}]}},
"y": {"field": "v", "type": "quantitative", "scale": {"domain": [2000, 6000], "nice": false, "zero": false},
"axis": {"orient": "right", "values": [2000, 2500, 3000, 3500, 4000, 4500, 5000, 5500, 6000], "format": "d", "labelOverlap": false, "labelFontSize": 14, "tickSize": 4, "labelPadding": 7, "domainColor": "black", "tickColor": "black", "grid": false, "title": null}}
}
}
],
"resolve": {"scale": {"y": "independent"}}
},
{
"width": 422, "height": 69,
"data": {"values": []},
"mark": {"type": "point", "opacity": 0, "size": 0},
"encoding": {}
},
{
"width": 422, "height": 0.01,
"view": {"stroke": "black", "strokeWidth": 1.3},
"data": {"values": []},
"title": {"text": "数据来源：Wind，兴业证券经济与金融研究院整理", "orient": "bottom", "anchor": "start", "frame": "group", "offset": 9, "dx": 7, "baseline": "top", "fontSize": 15, "fontWeight": "normal", "font": "Liberation Serif, Noto Sans CJK SC", "color": "black"},
"mark": {"type": "point", "opacity": 0, "size": 0},
"encoding": {}
}
],
"spacing": 0, "bounds": "flush", "center": true
},
{
"resolve": {"scale": {"color": "independent"}, "legend": {"color": "independent"}},
"vconcat": [
{
"width": 423, "height": 0.01,
"view": {"stroke": "black", "strokeWidth": 1.3},
"data": {"values": []},
"title": {"text": "图表 9：股指期货主力合约期现基差（bp）", "orient": "top", "anchor": "start", "frame": "group", "offset": 5, "dx": 4, "baseline": "bottom", "fontSize": 17, "fontWeight": "bold", "font": "Liberation Serif, Noto Sans CJK SC", "color": "black"},
"mark": {"type": "point", "opacity": 0, "size": 0},
"encoding": {}
},
{
"width": 423, "height": 20,
"data": {"values": [{"a": 0}]},
"mark": {"type": "point", "opacity": 0, "size": 0},
"encoding": {
"color": {"datum": "股指期货主力合约期现基差", "type": "nominal",
"scale": {"domain": ["股指期货主力合约期现基差", "沪深300指数（右轴）"], "range": ["#0C2D83", "#EF6564"]},
"legend": {"orient": "none", "legendX": 95, "legendY": -13, "direction": "vertical", "title": null, "symbolType": "stroke", "symbolSize": 900, "symbolStrokeWidth": 2, "symbolOpacity": 1, "labelFontSize": 15, "labelColor": "black", "labelOffset": 6, "rowPadding": 4, "padding": 0, "labelLimit": 400}}
}
},
{
"width": 315, "height": 179,
"layer": [
{"data": {"values": [{"a": 0}]}, "mark": {"type": "rule", "color": "black", "strokeWidth": 1.2}, "encoding": {"y": {"datum": 0, "type": "quantitative", "scale": {"domain": [-500, 300], "nice": false, "zero": false}, "axis": null}}},
{
"data": {"name": "basis"},
"mark": {"type": "line", "strokeWidth": 1.8, "clip": true, "color": "#0C2D83"},
"encoding": {
"x": {"field": "d", "type": "temporal", "scale": {"type": "utc", "domain": [{"year": 2013, "month": 1, "date": 1, "utc": true}, {"year": 2022, "month": 3, "date": 14, "utc": true}]},
"axis": {"orient": "bottom", "domain": false, "ticks": false, "grid": false, "title": null, "labelAngle": -90, "labelPadding": 10, "labelFontSize": 14, "labelOverlap": false, "labelFlush": false, "labelExpr": "utcFormat(datum.value, '%Y/%m')",
"values": [{"year":2013,"month":1,"date":1,"utc":true},{"year":2013,"month":9,"date":1,"utc":true},{"year":2014,"month":5,"date":1,"utc":true},{"year":2015,"month":1,"date":1,"utc":true},{"year":2015,"month":9,"date":1,"utc":true},{"year":2016,"month":5,"date":1,"utc":true},{"year":2017,"month":1,"date":1,"utc":true},{"year":2017,"month":9,"date":1,"utc":true},{"year":2018,"month":5,"date":1,"utc":true},{"year":2019,"month":1,"date":1,"utc":true},{"year":2019,"month":9,"date":1,"utc":true},{"year":2020,"month":5,"date":1,"utc":true},{"year":2021,"month":1,"date":1,"utc":true},{"year":2021,"month":9,"date":1,"utc":true}]}},
"y": {"field": "v", "type": "quantitative", "scale": {"domain": [-500, 300], "nice": false, "zero": false},
"axis": {"orient": "left", "values": [-500, -400, -300, -200, -100, 0, 100, 200, 300], "format": "d", "labelOverlap": false, "labelFontSize": 14, "tickSize": 4, "labelPadding": 8, "domainColor": "black", "tickColor": "black", "grid": false, "title": null}}
}
},
{
"data": {"name": "hs300"},
"mark": {"type": "line", "strokeWidth": 1.8, "clip": true, "color": "#EF6564"},
"encoding": {
"x": {"field": "d", "type": "temporal", "scale": {"type": "utc", "domain": [{"year": 2013, "month": 1, "date": 1, "utc": true}, {"year": 2022, "month": 3, "date": 14, "utc": true}]},
"axis": {"orient": "bottom", "domain": false, "ticks": false, "grid": false, "title": null, "labelAngle": -90, "labelPadding": 10, "labelFontSize": 14, "labelOverlap": false, "labelFlush": false, "labelExpr": "utcFormat(datum.value, '%Y/%m')",
"values": [{"year":2013,"month":1,"date":1,"utc":true},{"year":2013,"month":9,"date":1,"utc":true},{"year":2014,"month":5,"date":1,"utc":true},{"year":2015,"month":1,"date":1,"utc":true},{"year":2015,"month":9,"date":1,"utc":true},{"year":2016,"month":5,"date":1,"utc":true},{"year":2017,"month":1,"date":1,"utc":true},{"year":2017,"month":9,"date":1,"utc":true},{"year":2018,"month":5,"date":1,"utc":true},{"year":2019,"month":1,"date":1,"utc":true},{"year":2019,"month":9,"date":1,"utc":true},{"year":2020,"month":5,"date":1,"utc":true},{"year":2021,"month":1,"date":1,"utc":true},{"year":2021,"month":9,"date":1,"utc":true}]}},
"y": {"field": "v", "type": "quantitative", "scale": {"domain": [2000, 6000], "nice": false, "zero": false},
"axis": {"orient": "right", "values": [2000, 2500, 3000, 3500, 4000, 4500, 5000, 5500, 6000], "format": "d", "labelOverlap": false, "labelFontSize": 14, "tickSize": 4, "labelPadding": 8, "domainColor": "black", "tickColor": "black", "grid": false, "title": null}}
}
}
],
"resolve": {"scale": {"y": "independent"}}
},
{
"width": 423, "height": 69,
"data": {"values": []},
"mark": {"type": "point", "opacity": 0, "size": 0},
"encoding": {}
},
{
"width": 423, "height": 0.01,
"view": {"stroke": "black", "strokeWidth": 1.3},
"data": {"values": []},
"title": {"text": "格隆汇", "orient": "bottom", "anchor": "end", "frame": "group", "offset": 5, "dx": 14, "baseline": "top", "fontSize": 18, "fontWeight": "bold", "font": "Noto Sans CJK SC", "color": "#d4d4d4"},
"mark": {"type": "point", "opacity": 0, "size": 0},
"encoding": {}
}
],
"spacing": 0, "bounds": "flush", "center": true
}
],
"config": {
"view": {"stroke": null},
"font": "Liberation Serif, Noto Sans CJK SC",
"axis": {"labelFont": "Liberation Serif, Noto Sans CJK SC", "labelColor": "black", "labelOverlap": false},
"legend": {"labelFont": "Liberation Serif, Noto Sans CJK SC"}
}
}
